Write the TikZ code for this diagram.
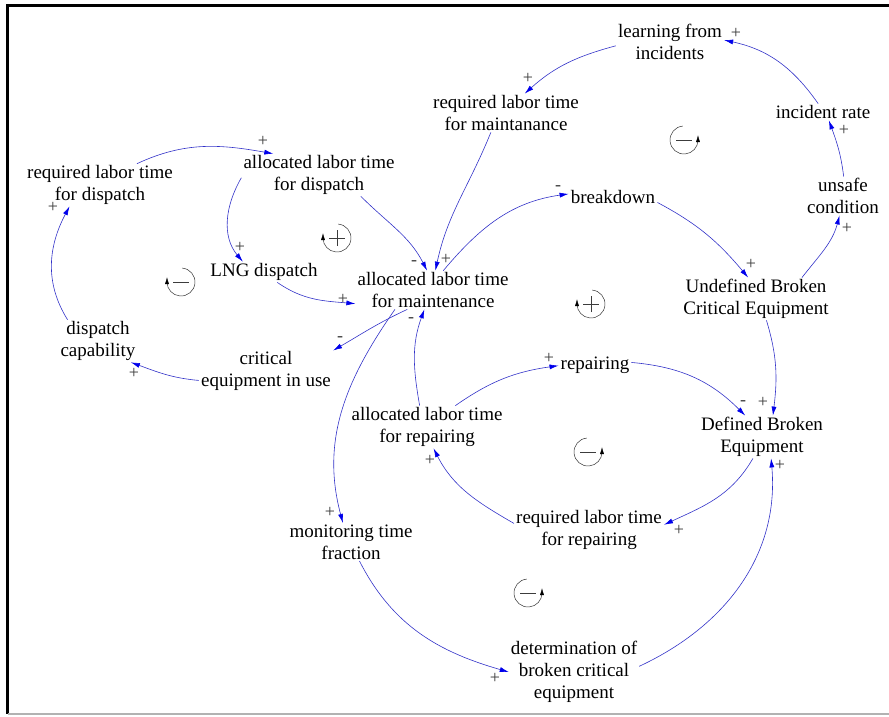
\documentclass[tikz,border=0pt]{standalone}
\usepackage{fontspec}
\setmainfont{Liberation Serif}
\usetikzlibrary{arrows.meta}
\definecolor{arccol}{RGB}{50,50,200}
\definecolor{tipcol}{RGB}{0,0,235}
\definecolor{sgncol}{RGB}{60,60,60}
\tikzset{
  var/.style={align=center, inner xsep=2pt, inner ysep=1.5pt, font=\fontsize{19}{22}\selectfont},
  lnk/.style={draw=arccol, line width=0.6pt, -{Latex[length=9pt,width=5pt,color=tipcol]}},
  sg/.style={text=sgncol, font=\fontsize{18}{18}\selectfont, inner sep=0pt},
  loopcw/.pic={
    \draw[line width=0.5pt, black!80, -{Latex[length=7pt,width=4pt,color=black]}] (85:14) arc[start angle=85, end angle=-180, radius=14] -- ++(0,5);
  },
  loopccw/.pic={
    \draw[line width=0.5pt, black!80, -{Latex[length=7pt,width=4pt,color=black]}] (95:14) arc[start angle=95, end angle=360, radius=14] -- ++(0,5);
  },
  minussign/.pic={\draw[sgncol, line width=0.8pt] (-8,0) -- (8,0);},
  plussign/.pic={\draw[sgncol, line width=0.8pt] (-8,0) -- (8,0) (0,-8) -- (0,8);}
}
\begin{document}
\begin{tikzpicture}[x=1pt,y=1pt]
\useasboundingbox (0,0) rectangle (889,-716);
% frame
\draw[line width=2.5pt, black] (889,-5.5) -- (7.5,-5.5) -- (7.5,-714);
\draw[line width=1.2pt, black!30] (7.5,-714) -- (889,-714);

% variables
\node[var] (lfi) at (670,-42) {learning from\\incidents};
\node[var] (rlm) at (506,-113) {required labor time\\for maintanance};
\node[var] (ir) at (823,-112) {incident rate};
\node[var] (uc) at (843,-196) {unsafe\\condition};
\node[var] (rld) at (100,-185) {required labor time\\for dispatch};
\node[var] (ald) at (319,-175) {allocated labor time\\for dispatch};
\node[var] (bd) at (613,-197) {breakdown};
\node[var] (lng) at (264,-272) {LNG dispatch};
\node[var] (alm) at (433,-290) {allocated labor time\\for maintenance};
\node[var] (ubc) at (756,-299) {Undefined Broken\\Critical Equipment};
\node[var] (dc) at (98,-341) {dispatch\\capability};
\node[var] (ceu) at (266,-371) {critical\\equipment in use};
\node[var] (rep) at (595,-365) {repairing};
\node[var] (alr) at (427,-427) {allocated labor time\\for repairing};
\node[var] (dbe) at (762,-437) {Defined Broken\\Equipment};
\node[var] (rlr) at (589,-530) {required labor time\\for repairing};
\node[var] (mtf) at (351,-542) {monitoring time\\fraction};
\node[var] (det) at (574,-672) {determination of\\broken critical\\equipment};

% links
\draw[lnk] (rld.30) to[out=25,in=170] (ald.155);
\draw[lnk] (ald.182) to[out=240,in=130] (lng.154);
\draw[lnk] (lng.-38) to[out=-35,in=175] (alm.190);
\draw[lnk] (ald.-27) to[out=-45,in=117] (alm.107);
\draw[lnk] (rlm.232) to[out=-112,in=78] (alm.83);
\draw[lnk] (alm.62) to[out=50,in=188] (bd.176);
\draw[lnk] (bd.-7) to[out=-28,in=130] (ubc.110);
\draw[lnk] (ubc.25) to[out=52,in=-105] (uc.260);
\draw[lnk] (uc.88) to[out=97,in=-70] (ir.-55);
\draw[lnk] (ir.120) to[out=125,in=-12] (lfi.2);
\draw[lnk] (lfi.184) to[out=195,in=42] (rlm.46);
\draw[lnk] (ubc.-64) to[out=-73,in=83] (dbe.63);
\draw[lnk] (rep.4) to[out=-5,in=135] (dbe.128);
\draw[lnk] (alm.217) to[out=205,in=30] (ceu.17);
\draw[lnk] (ceu.188) to[out=175,in=-20] (dc.-33);
\draw[lnk] (dc.145) to[out=122,in=-118] (rld.215);
\draw[lnk] (alm.207) to[out=-125,in=105] (mtf.113);
\draw[lnk] (alr.109) to[out=100,in=-110] (alm.246);
\draw[lnk] (alr.37) to[out=35,in=188] (rep.181);
\draw[lnk] (dbe.247) to[out=-120,in=25] (rlr.4);
\draw[lnk] (rlr.175) to[out=150,in=-63] (alr.-73);
\draw[lnk] (mtf.-66) to[out=-63,in=164] (det.180);
\draw[lnk] (det.5) to[out=25,in=-85] (dbe.-67);

% polarities
\node[sg] (s1) at (263,-141) {+};
\node[sg] (s2) at (240,-247) {+};
\node[sg] (s3) at (343,-299) {+};
\node[sg] (s4) at (414,-263) {-};
\node[sg] (s5) at (446,-259) {+};
\node[sg] (s6) at (558,-188) {-};
\node[sg] (s7) at (751,-264) {+};
\node[sg] (s8) at (847,-228) {+};
\node[sg] (s9) at (844,-130) {+};
\node[sg] (s10) at (736,-33) {+};
\node[sg] (s11) at (528,-78) {+};
\node[sg] (s12) at (763,-402) {+};
\node[sg] (s13) at (743,-403) {-};
\node[sg] (s14) at (340,-339) {-};
\node[sg] (s15) at (134,-373) {+};
\node[sg] (s16) at (53,-207) {+};
\node[sg] (s17) at (330,-512) {+};
\node[sg] (s18) at (411,-320) {-};
\node[sg] (s19) at (549,-358) {+};
\node[sg] (s20) at (679,-530) {+};
\node[sg] (s21) at (430,-460) {+};
\node[sg] (s22) at (495,-678) {+};
\node[sg] (s23) at (780,-465) {+};

% loop markers
\pic at (684,-140) {loopccw};  \pic at (684,-140) {minussign};
\pic at (337,-238) {loopcw};   \pic at (337,-238) {plussign};
\pic at (181,-282) {loopcw};   \pic at (181,-282) {minussign};
\pic at (591,-304) {loopcw};   \pic at (591,-304) {plussign};
\pic at (588,-452) {loopccw};  \pic at (588,-452) {minussign};
\pic at (528,-593) {loopccw};  \pic at (528,-593) {minussign};
\end{tikzpicture}
\end{document}
